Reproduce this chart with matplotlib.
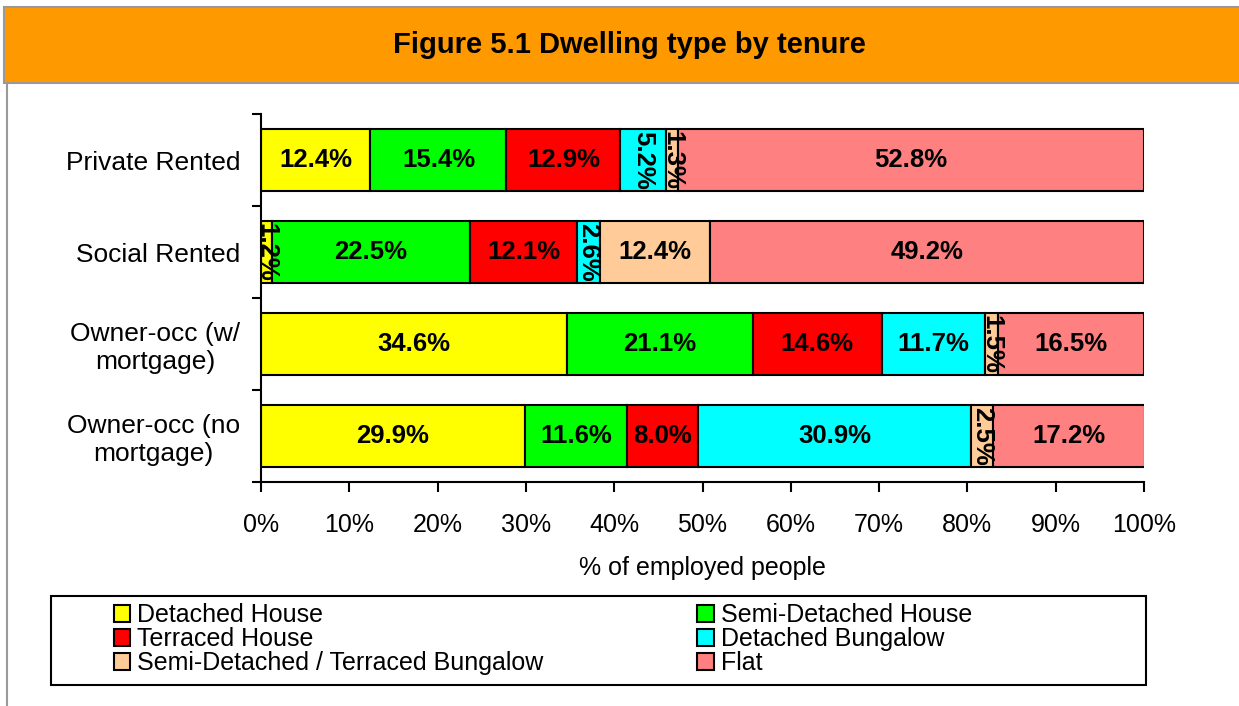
import numpy as np
import matplotlib.pyplot as plt
from matplotlib.patches import Rectangle, Patch
from matplotlib.lines import Line2D
from matplotlib.ticker import FuncFormatter

plt.rcParams['font.family'] = ['Liberation Sans', 'DejaVu Sans']

# --- data ------------------------------------------------------------------
tenures = ['Private Rented', 'Social Rented', 'Owner-occ (w/\nmortgage)',
           'Owner-occ (no\nmortgage)']
dwelling_types = ['Detached House', 'Semi-Detached House', 'Terraced House',
                  'Detached Bungalow', 'Semi-Detached / Terraced Bungalow', 'Flat']
detached_house = [12.4, 1.2, 34.6, 29.9]
semi_detached_house = [15.4, 22.5, 21.1, 11.6]
terraced_house = [12.9, 12.1, 14.6, 8.0]
detached_bungalow = [5.2, 2.6, 11.7, 30.9]
semi_terr_bungalow = [1.3, 12.4, 1.5, 2.5]
flat = [52.8, 49.2, 16.5, 17.2]
x_ticks = list(range(0, 101, 10))

series = [detached_house, semi_detached_house, terraced_house,
          detached_bungalow, semi_terr_bungalow, flat]
colors = ['#FFFF00', '#00FF00', '#FF0000', '#00FFFF', '#FFCC99', '#FF8080']

W, H = 1239, 706
fig = plt.figure(figsize=(W / 100, H / 100), dpi=100)

# --- header band -------------------------------------------------------------
fig.patches.append(Rectangle((4 / W, 1 - 83 / H), 1, 76 / H, transform=fig.transFigure,
                             facecolor='#FF9900', edgecolor='#999999', lw=1.5))
fig.lines.append(Line2D([7 / W, 7 / W], [0, 1 - 83 / H], transform=fig.transFigure,
                        color='#999999', lw=1.5))
fig.text(629 / W, 1 - 45 / H, 'Figure 5.1 Dwelling type by tenure', ha='center',
         va='center', fontsize=21, fontweight='bold')

# --- bars ----------------------------------------------------------------------
ax = fig.add_axes([261 / W, 1 - 482 / H, (1144 - 261) / W, (482 - 114) / H])
y = np.arange(len(tenures))
left = np.zeros(len(tenures))
for name, vals, col in zip(dwelling_types, series, colors):
    vals = np.array(vals)
    ax.barh(y, vals, left=left, height=0.67, color=col, edgecolor='black',
            lw=1.5, label=name, zorder=2)
    for yi, v, l in zip(y, vals, left):
        rot = 270 if v < 6 else 0
        ax.text(l + v / 2, yi, f'{v:.1f}%', ha='center', va='center',
                rotation=rot, fontsize=18.5, fontweight='bold', zorder=3)
    left += vals

ax.set_xlim(0, 100)
ax.set_ylim(3.5, -0.5)
for s in ['top', 'right']:
    ax.spines[s].set_visible(False)
for s in ['left', 'bottom']:
    ax.spines[s].set_linewidth(1.5)

ax.set_xticks(x_ticks)
ax.xaxis.set_major_formatter(FuncFormatter(lambda v, p: f'{v:.0f}%'))
ax.tick_params(axis='x', direction='out', length=7, width=1.5, labelsize=18, pad=15)

ax.set_yticks(np.arange(-0.5, len(tenures), 1.0))
ax.set_yticklabels([])
ax.set_yticks(y, minor=True)
ax.set_yticklabels(tenures, minor=True, fontsize=19, multialignment='center')
ax.tick_params(axis='y', which='major', direction='out', length=6.5, width=1.5)
ax.tick_params(axis='y', which='minor', length=0, pad=15)

ax.set_xlabel('% of employed people', fontsize=18, labelpad=14)

# --- legend ------------------------------------------------------------------
fig.patches.append(Rectangle((51 / W, 1 - 685 / H), (1146 - 51) / W, 89 / H,
                             transform=fig.transFigure, facecolor='white',
                             edgecolor='black', lw=1.5))
order = [0, 2, 4, 1, 3, 5]
handles = [Patch(facecolor=colors[i], edgecolor='black', lw=1.5) for i in order]
labels = [dwelling_types[i] for i in order]
fig.legend(handles, labels, ncol=2, loc='center left',
           bbox_to_anchor=(101 / W, 1 - 639 / H), frameon=False, fontsize=18,
           borderpad=0, handlelength=0.65, handleheight=0.65, handletextpad=0.3,
           labelspacing=0.0, columnspacing=6.15)

fig.savefig('out.png', dpi=100)
